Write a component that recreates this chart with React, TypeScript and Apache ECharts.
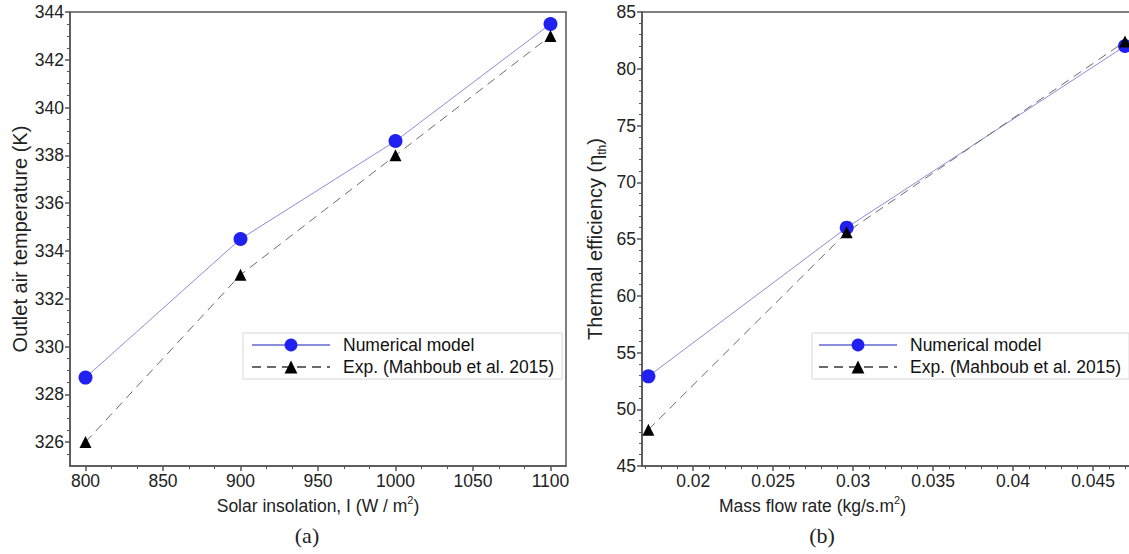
import React, { useEffect, useRef } from "react";
import * as echarts from "echarts";

// ---- data ----
const aInsolation = [800, 900, 1000, 1100];
const aNumerical = [328.7, 334.5, 338.6, 343.5];
const aExperimental = [326.0, 333.0, 338.0, 343.0];

const bMassFlow = [0.0172, 0.0296, 0.047];
const bNumerical = [52.9, 66.0, 82.0];
const bExperimental = [48.2, 65.6, 82.4];

const aYTicks = [326, 328, 330, 332, 334, 336, 338, 340, 342, 344];
const aXTicks = [800, 850, 900, 950, 1000, 1050, 1100];
const bYTicks = [45, 50, 55, 60, 65, 70, 75, 80, 85];
const bXTicks = [0.02, 0.025, 0.03, 0.035, 0.04, 0.045];

const NAME_NUM = "Numerical model";
const NAME_EXP = "Exp. (Mahboub et al. 2015)";

const FONT = "Liberation Sans, Arial, sans-serif";
const AXIS_COLOR = "#555";
const TEXT_COLOR = "#222";

// minor tick positions (axis decoration only)
function minorTicks(start: number, end: number, step: number, majors: number[]) {
  const out: number[] = [];
  const n = Math.round((end - start) / step);
  for (let i = 0; i <= n; i++) {
    const v = +(start + i * step).toFixed(8);
    if (!majors.some((m) => Math.abs(m - v) < step / 10)) out.push(v);
  }
  return out;
}

export default function App() {
  const ref = useRef<HTMLDivElement | null>(null);

  useEffect(() => {
    if (!ref.current) return;
    const chart = echarts.init(ref.current, undefined, { renderer: "svg" });

    const gridA = { left: 70, top: 12, width: 496, height: 454 };
    const gridB = { left: 642, top: 12, width: 499, height: 454 };

    const labelStyle = { color: TEXT_COLOR, fontSize: 17.5, fontFamily: FONT, margin: 6 };
    const nameStyle = { color: TEXT_COLOR, fontSize: 17.5, fontFamily: FONT };
    const yNameStyle = { color: TEXT_COLOR, fontSize: 20, fontFamily: FONT };

    const mainAxis = (ticks: number[], fmt: (v: number) => string) => ({
      axisLine: { show: true, lineStyle: { color: AXIS_COLOR, width: 1.5 } },
      axisTick: { show: true, length: 5, customValues: ticks, lineStyle: { color: AXIS_COLOR, width: 1.5 } },
      splitLine: { show: false },
      axisLabel: { ...labelStyle, customValues: ticks, formatter: fmt },
    });
    const minorAxis = (ticks: number[]) => ({
      axisLine: { show: false },
      axisTick: { show: true, length: 3, customValues: ticks, lineStyle: { color: AXIS_COLOR, width: 1 } },
      axisLabel: { show: false },
      splitLine: { show: false },
    });

    const plain = (v: number) => String(+Number(v).toFixed(4));

    const richX = {
      n: { fontSize: 17.5, fontFamily: FONT, color: TEXT_COLOR, lineHeight: 22 },
      sup: { fontSize: 11, fontFamily: FONT, color: TEXT_COLOR, verticalAlign: "top", lineHeight: 22 },
    };
    const richY = {
      n: { fontSize: 20, fontFamily: FONT, color: TEXT_COLOR, lineHeight: 26 },
      sub: { fontSize: 12, fontFamily: FONT, color: TEXT_COLOR, verticalAlign: "bottom", lineHeight: 26 },
    };

    const legendCommon = {
      orient: "vertical",
      top: 333,
      data: [NAME_NUM, NAME_EXP],
      itemWidth: 78,
      itemHeight: 16,
      itemGap: 4,
      backgroundColor: "#fff",
      borderColor: "#d8d8d8",
      borderWidth: 1,
      textStyle: { fontSize: 17.5, fontFamily: FONT, color: "#111", padding: [0, 0, 0, 8] },
    };

    const option: any = {
      animation: false,
      backgroundColor: "#fff",
      grid: [
        { ...gridA, show: true, borderColor: AXIS_COLOR, borderWidth: 1.5, backgroundColor: "transparent" },
        { ...gridA, show: false },
        { ...gridB, show: true, borderColor: AXIS_COLOR, borderWidth: 1.5, backgroundColor: "transparent" },
        { ...gridB, show: false },
      ],
      xAxis: [
        {
          ...mainAxis(aXTicks, plain),
          type: "value",
          gridIndex: 0,
          min: 790,
          max: 1110,
          name: "{n|Solar insolation, I (W / m}{sup|2}{n|)}",
          nameLocation: "middle",
          nameGap: 27,
          nameTextStyle: { ...nameStyle, rich: richX },
        },
        { ...minorAxis(minorTicks(800, 1100, 50 / 3, aXTicks)), type: "value", gridIndex: 1, min: 790, max: 1110 },
        {
          ...mainAxis(bXTicks, plain),
          type: "value",
          gridIndex: 2,
          min: 0.0168,
          max: 0.048,
          name: "{n|Mass flow rate (kg/s.m}{sup|2}{n|)}",
          nameLocation: "middle",
          nameGap: 27,
          nameTextStyle: { ...nameStyle, rich: richX, padding: [0, 0, 0, -158] },
        },
        { ...minorAxis(minorTicks(0.017, 0.047, 0.001, bXTicks)), type: "value", gridIndex: 3, min: 0.0168, max: 0.048 },
      ],
      yAxis: [
        {
          ...mainAxis(aYTicks, plain),
          type: "value",
          gridIndex: 0,
          min: 325,
          max: 344,
          name: "Outlet air temperature (K)",
          nameLocation: "middle",
          nameGap: 40,
          nameTextStyle: yNameStyle,
        },
        { ...minorAxis(minorTicks(325.5, 343.5, 0.5, aYTicks)), type: "value", gridIndex: 1, min: 325, max: 344 },
        {
          ...mainAxis(bYTicks, plain),
          type: "value",
          gridIndex: 2,
          min: 45,
          max: 85,
          name: "{n|Thermal efficiency (η}{sub|th}{n|)}",
          nameLocation: "middle",
          nameGap: 34,
          nameTextStyle: { ...yNameStyle, rich: richY },
        },
        { ...minorAxis(minorTicks(46, 84, 1, bYTicks)), type: "value", gridIndex: 3, min: 45, max: 85 },
      ],
      legend: [
        { ...legendCommon, left: 243, padding: [3, 8, 3, 8] },
        { ...legendCommon, left: 812, padding: [3, 8, 3, 6] },
      ],
      series: [
        {
          name: NAME_NUM,
          type: "line",
          xAxisIndex: 0,
          yAxisIndex: 0,
          data: aInsolation.map((x, i) => [x, aNumerical[i]]),
          symbol: "circle",
          symbolSize: 14,
          itemStyle: { color: "#2020f0" },
          lineStyle: { color: "#8c8cdc", width: 1 },
        },
        {
          name: NAME_EXP,
          type: "line",
          xAxisIndex: 0,
          yAxisIndex: 0,
          data: aInsolation.map((x, i) => [x, aExperimental[i]]),
          symbol: "triangle",
          symbolSize: 12,
          itemStyle: { color: "#000" },
          lineStyle: { color: "#6a6a6a", width: 1, type: [9, 6] },
        },
        {
          name: NAME_NUM,
          type: "line",
          xAxisIndex: 2,
          yAxisIndex: 2,
          data: bMassFlow.map((x, i) => [x, bNumerical[i]]),
          symbol: "circle",
          symbolSize: 14,
          itemStyle: { color: "#2020f0" },
          lineStyle: { color: "#8c8cdc", width: 1 },
        },
        {
          name: NAME_EXP,
          type: "line",
          xAxisIndex: 2,
          yAxisIndex: 2,
          data: bMassFlow.map((x, i) => [x, bExperimental[i]]),
          symbol: "triangle",
          symbolSize: 12,
          itemStyle: { color: "#000" },
          lineStyle: { color: "#6a6a6a", width: 1, type: [9, 6] },
        },
      ],
      graphic: [
        {
          type: "text",
          x: 307,
          y: 535,
          style: {
            text: "(a)",
            fontSize: 22,
            fontFamily: "Liberation Serif, DejaVu Serif, serif",
            fill: TEXT_COLOR,
            align: "center",
            verticalAlign: "middle",
          },
        },
        {
          type: "text",
          x: 822,
          y: 535,
          style: {
            text: "(b)",
            fontSize: 22,
            fontFamily: "Liberation Serif, DejaVu Serif, serif",
            fill: TEXT_COLOR,
            align: "center",
            verticalAlign: "middle",
          },
        },
      ],
    };

    chart.setOption(option);
    return () => chart.dispose();
  }, []);

  return (
    <div
      style={{
        position: "fixed",
        left: 0,
        top: 0,
        width: 1129,
        height: 554,
        overflow: "hidden",
        background: "#fff",
      }}
    >
      <div ref={ref} style={{ width: 1170, height: 554 }} />
    </div>
  );
}
